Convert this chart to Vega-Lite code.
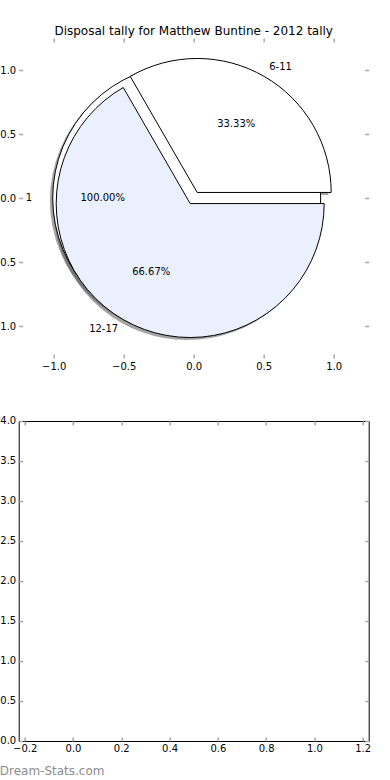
{
  "$schema": "https://vega.github.io/schema/vega-lite/v6.json",
  "padding": {"left": -9.3, "top": 25, "right": 0, "bottom": 0},
  "spacing": 63,
  "bounds": "flush",
  "datasets": {
    "pie1": [{"label": "1", "share": 1.0}],
    "pie2": [{"label": "6-11", "share": 0.3333}, {"label": "12-17", "share": 0.6667}],
    "none": []
  },
  "vconcat": [
    {
      "width": 350,
      "height": 320,
      "view": {"stroke": null},
      "title": {"text": "Disposal tally for Matthew Buntine - 2012 tally", "anchor": "middle", "frame": "group", "offset": -10, "baseline": "alphabetic"},
      "resolve": {"axis": {"x": "independent", "y": "independent"}},
      "layer": [
        {
          "data": {"name": "pie1"},
          "transform": [{"stack": "share", "groupby": [], "sort": [{"field": "label", "order": "descending"}], "as": ["t0", "t1"]}],
          "mark": {"type": "arc", "radius": 134, "fill": "#4a4a4c", "opacity": 0.5, "strokeWidth": 0},
          "encoding": {
            "x": {"datum": -0.07, "type": "quantitative", "scale": {"domain": [-1.25, 1.25], "nice": false, "zero": false}, "axis": {"orient": "bottom", "values": [-1, -0.5, 0, 0.5, 1], "format": ".1f", "title": null}},
            "y": {"datum": -0.02, "type": "quantitative", "scale": {"domain": [-1.25, 1.25], "nice": false, "zero": false}, "axis": {"orient": "left", "values": [-1, -0.5, 0, 0.5, 1], "format": ".1f", "title": null}},
            "theta": {"field": "t0", "type": "quantitative", "stack": null, "scale": {"domain": [0, 1], "range": [1.5708, -4.7124]}},
            "theta2": {"field": "t1"}
          }
        },
        {
          "data": {"name": "pie2"},
          "transform": [{"stack": "share", "groupby": [], "sort": [{"field": "label", "order": "descending"}], "as": ["t0", "t1"]}, {"filter": "datum.label == '6-11'"}],
          "mark": {"type": "arc", "radius": 134, "fill": "#4a4a4c", "opacity": 0.5, "strokeWidth": 0},
          "encoding": {
            "x": {"datum": 0.005, "type": "quantitative", "axis": {"orient": "top", "values": [-1, -0.5, 0, 0.5, 1], "labels": false, "title": null}},
            "y": {"datum": 0.0233, "type": "quantitative", "axis": {"orient": "right", "values": [-1, -0.5, 0, 0.5, 1], "labels": false, "title": null}},
            "theta": {"field": "t0", "type": "quantitative", "stack": null, "scale": {"domain": [0, 1], "range": [1.5708, -4.7124]}},
            "theta2": {"field": "t1"}
          }
        },
        {
          "data": {"name": "pie2"},
          "transform": [{"stack": "share", "groupby": [], "sort": [{"field": "label", "order": "descending"}], "as": ["t0", "t1"]}, {"filter": "datum.label == '12-17'"}],
          "mark": {"type": "arc", "radius": 134, "fill": "#4a4a4c", "opacity": 0.5, "strokeWidth": 0},
          "encoding": {
            "x": {"datum": -0.045, "type": "quantitative", "axis": null},
            "y": {"datum": -0.0633, "type": "quantitative", "axis": null},
            "theta": {"field": "t0", "type": "quantitative", "stack": null, "scale": {"domain": [0, 1], "range": [1.5708, -4.7124]}},
            "theta2": {"field": "t1"}
          }
        },
        {
          "data": {"name": "pie1"},
          "transform": [{"stack": "share", "groupby": [], "sort": [{"field": "label", "order": "descending"}], "as": ["t0", "t1"]}],
          "mark": {"type": "arc", "radius": 134, "fill": "#ffffff", "stroke": "#000000", "strokeWidth": 1},
          "encoding": {
            "x": {"datum": -0.05, "type": "quantitative", "axis": null},
            "y": {"datum": 0, "type": "quantitative", "axis": null},
            "theta": {"field": "t0", "type": "quantitative", "stack": null, "scale": {"domain": [0, 1], "range": [1.5708, -4.7124]}},
            "theta2": {"field": "t1"}
          }
        },
        {
          "data": {"name": "pie2"},
          "transform": [{"stack": "share", "groupby": [], "sort": [{"field": "label", "order": "descending"}], "as": ["t0", "t1"]}, {"filter": "datum.label == '6-11'"}],
          "mark": {"type": "arc", "radius": 134, "fill": "#ffffff", "stroke": "#000000", "strokeWidth": 1},
          "encoding": {
            "x": {"datum": 0.025, "type": "quantitative", "axis": null},
            "y": {"datum": 0.0433, "type": "quantitative", "axis": null},
            "theta": {"field": "t0", "type": "quantitative", "stack": null, "scale": {"domain": [0, 1], "range": [1.5708, -4.7124]}},
            "theta2": {"field": "t1"}
          }
        },
        {
          "data": {"name": "pie2"},
          "transform": [{"stack": "share", "groupby": [], "sort": [{"field": "label", "order": "descending"}], "as": ["t0", "t1"]}, {"filter": "datum.label == '12-17'"}],
          "mark": {"type": "arc", "radius": 134, "fill": "#eaf0fd", "stroke": "#000000", "strokeWidth": 1},
          "encoding": {
            "x": {"datum": -0.025, "type": "quantitative", "axis": null},
            "y": {"datum": -0.0433, "type": "quantitative", "axis": null},
            "theta": {"field": "t0", "type": "quantitative", "stack": null, "scale": {"domain": [0, 1], "range": [1.5708, -4.7124]}},
            "theta2": {"field": "t1"}
          }
        },
        {
          "data": {"name": "pie1"},
          "mark": {"type": "text", "radius": 161.5, "align": "right", "baseline": "middle"},
          "encoding": {
            "theta": {"field": "share", "type": "quantitative", "stack": true, "scale": {"domain": [0, 1], "range": [1.5708, -4.7124]}},
            "detail": {"field": "label"},
            "text": {"field": "label"}
          }
        },
        {
          "data": {"name": "pie1"},
          "mark": {"type": "text", "radius": 91, "align": "center", "baseline": "middle"},
          "encoding": {
            "theta": {"field": "share", "type": "quantitative", "stack": true, "scale": {"domain": [0, 1], "range": [1.5708, -4.7124]}},
            "detail": {"field": "label"},
            "text": {"field": "share", "type": "quantitative", "format": ".2%"}
          }
        },
        {
          "data": {"name": "pie2"},
          "mark": {"type": "text", "radius": 151, "align": {"expr": "datum.label == '12-17' ? 'right' : 'left'"}, "baseline": "middle"},
          "encoding": {
            "theta": {"field": "share", "type": "quantitative", "stack": true, "scale": {"domain": [0, 1], "range": [1.5708, -4.7124]}},
            "detail": {"field": "label"},
            "order": {"field": "label", "sort": "descending"},
            "text": {"field": "label"}
          }
        },
        {
          "data": {"name": "pie2"},
          "mark": {"type": "text", "radius": 85, "align": "center", "baseline": "middle"},
          "encoding": {
            "theta": {"field": "share", "type": "quantitative", "stack": true, "scale": {"domain": [0, 1], "range": [1.5708, -4.7124]}},
            "detail": {"field": "label"},
            "order": {"field": "label", "sort": "descending"},
            "text": {"field": "share", "type": "quantitative", "format": ".2%"}
          }
        }
      ]
    },
    {
      "width": 350,
      "height": 320,
      "view": {"stroke": "#000000", "strokeWidth": 1},
      "title": {"text": "Dream-Stats.com", "orient": "bottom", "anchor": "start", "frame": "bounds", "offset": 21, "baseline": "alphabetic", "color": "#8c8c8c", "fontSize": 12},
      "resolve": {"axis": {"x": "independent", "y": "independent"}},
      "layer": [
        {
          "data": {"name": "none"},
          "mark": {"type": "point", "opacity": 0},
          "encoding": {
            "x": {"datum": 0, "type": "quantitative", "scale": {"domain": [-0.225, 1.225], "nice": false, "zero": false}, "axis": {"orient": "bottom", "values": [-0.2, 0, 0.2, 0.4, 0.6, 0.8, 1.0, 1.2], "format": ".1f", "title": null}},
            "y": {"datum": 0, "type": "quantitative", "scale": {"domain": [0, 4], "nice": false, "zero": false}, "axis": {"orient": "left", "values": [0, 0.5, 1, 1.5, 2, 2.5, 3, 3.5, 4], "format": ".1f", "title": null}}
          }
        },
        {
          "data": {"name": "none"},
          "mark": {"type": "point", "opacity": 0},
          "encoding": {
            "x": {"datum": 0, "type": "quantitative", "axis": {"orient": "top", "values": [-0.2, 0, 0.2, 0.4, 0.6, 0.8, 1.0, 1.2], "labels": false, "title": null}},
            "y": {"datum": 0, "type": "quantitative", "axis": {"orient": "right", "values": [0, 0.5, 1, 1.5, 2, 2.5, 3, 3.5, 4], "labels": false, "title": null}}
          }
        }
      ]
    }
  ],
  "config": {
    "background": "white",
    "font": "DejaVu Sans",
    "view": {"stroke": null},
    "axis": {"domain": false, "grid": false, "tickSize": -4, "tickColor": "#a8a8a8", "tickWidth": 1.5, "labelFont": "DejaVu Sans", "labelFontSize": 10, "labelColor": "#000000", "labelPadding": 7, "labelFlush": false, "labelOverlap": false, "labelBound": false},
    "title": {"font": "DejaVu Sans", "fontSize": 12, "fontWeight": "normal", "color": "#000000"},
    "text": {"font": "DejaVu Sans", "fontSize": 10, "color": "#000000"}
  }
}
